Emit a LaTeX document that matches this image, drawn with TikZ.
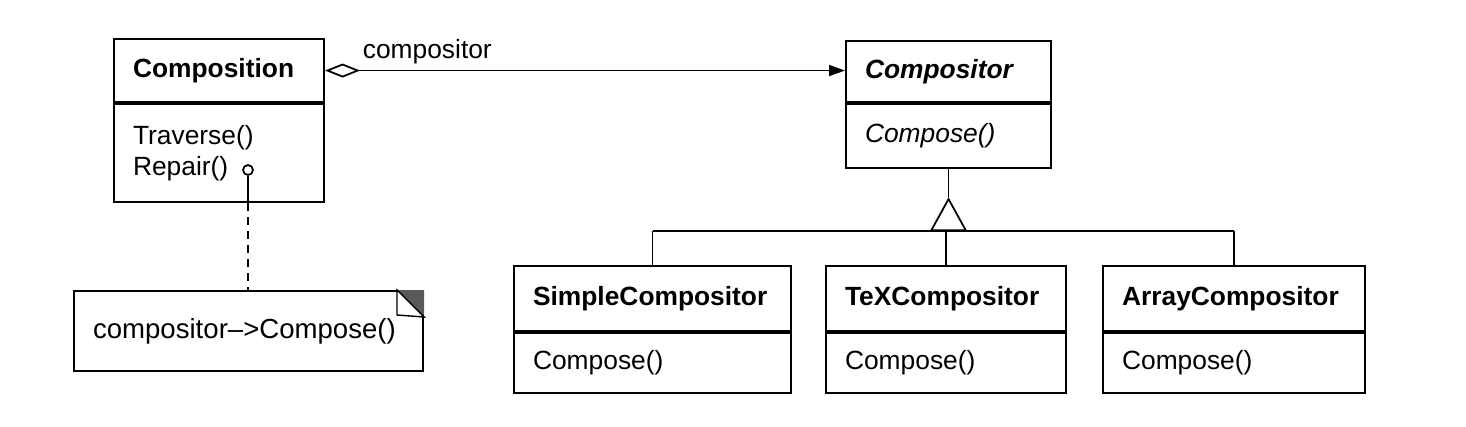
\documentclass[tikz,border=0pt]{standalone}
\usepackage{fontspec}
\setmainfont{Liberation Sans}
\usetikzlibrary{positioning, arrows.meta}

\begin{document}
\fontsize{15}{18}\selectfont
\begin{tikzpicture}[x=0.02cm, y=-0.02cm, line width=1pt,
    classbox/.style={draw, line width=1.2pt, anchor=north west, align=left, inner xsep=0.38cm, inner ysep=0pt}]
    \useasboundingbox (0,0) rectangle (1466,426);
    % Composition and its strategy object
    \node[classbox, font=\bfseries, text width=3.44cm, minimum height=1.26cm] (compn) at (113,38) {Composition};
    \node[classbox, text width=3.44cm, minimum height=1.96cm] (compn-ops) at (compn.south west) {Traverse()\\Repair()};
    \node[classbox, font=\bfseries\itshape, text width=3.34cm, minimum height=1.22cm] (cmpr) at (845,40) {Compositor};
    \node[classbox, font=\itshape, text width=3.34cm, minimum height=1.28cm] (cmpr-ops) at (cmpr.south west) {Compose()};
    \draw[{Diamond[open, length=0.7cm, width=0.28cm]}-{Triangle[length=0.32cm, width=0.22cm]}] (compn.east) -- (compn.east -| cmpr.west);
    \node[anchor=base west, inner sep=0pt] (rolelbl) at (362,58) {compositor};
    % concrete compositors
    \path (cmpr-ops.south) ++(0,28) coordinate (apex) ++(0,34) coordinate (bus);
    \foreach \nm/\x/\w/\txt in {simple/513/4.78cm/SimpleCompositor, tex/825/4.04cm/TeXCompositor, array/1102/4.48cm/ArrayCompositor} {
      \node[classbox, font=\bfseries, text width=\w, minimum height=1.3cm] (\nm) at (\x,265) {\txt};
      \node[classbox, text width=\w, minimum height=1.2cm] (\nm-ops) at (\nm.south west) {Compose()};
    }
    \draw (simple.north |- bus) -- (array.north |- bus);
    \foreach \nm in {simple, tex, array}
      \draw (\nm.north) -- (\nm.north |- bus);
    \draw (cmpr-ops.south) -- (apex);
    \draw[-{Triangle[open, length=0.68cm, width=0.74cm]}] (bus) -- (apex);
    % note on Repair()
    \node[draw, line width=1.2pt, anchor=north west, align=left, text width=6.22cm, inner xsep=0.38cm, minimum height=1.6cm, font=\fontsize{15.7}{18}\selectfont] (note) at (73,290) {compositor--{}>Compose()};
    \fill[black!65] (note.north east) -- ++(-27,0) -- ++(27,27) -- cycle;
    \draw[fill=white, line width=0.8pt] (note.north east) ++(-27,0) -- ++(0,25) -- ++(27,2) -- cycle;
    \node[draw, circle, minimum size=0.2cm, inner sep=0pt] (hook) at (248,170) {};
    \draw (hook.south) -- (hook |- compn-ops.south);
    \draw[dash pattern=on 0.16cm off 0.12cm] (hook |- compn-ops.south) -- (hook |- note.north);
  \end{tikzpicture}
\end{document}
